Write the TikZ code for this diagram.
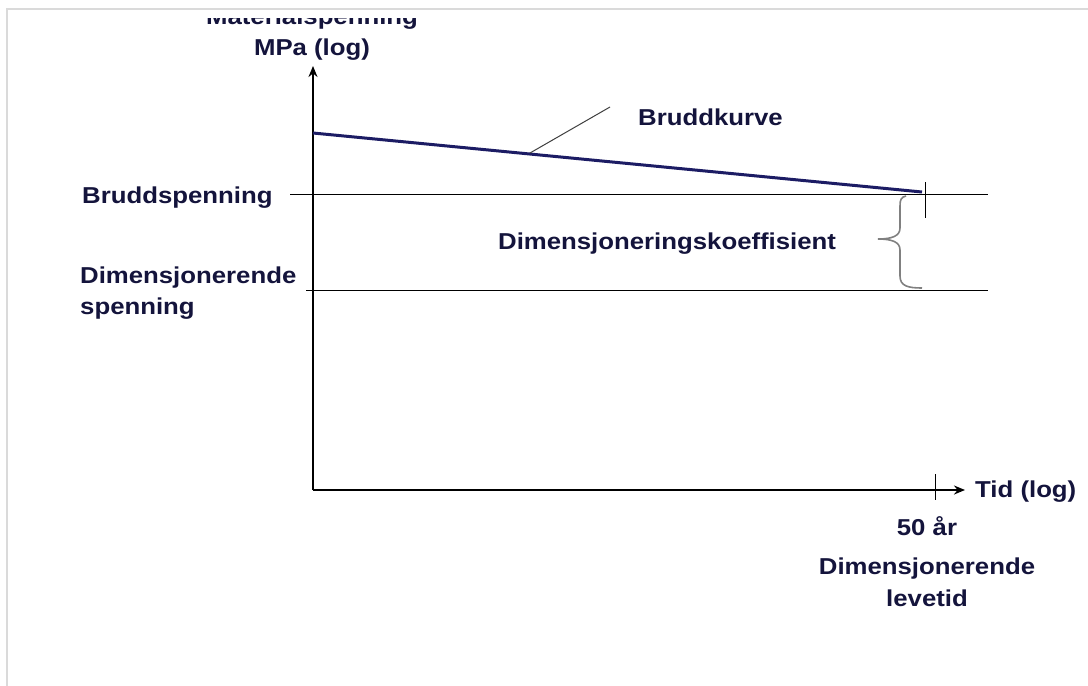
\documentclass[tikz,border=0pt]{standalone}
\usepackage{fontspec}
\setmainfont{Liberation Sans}[FakeStretch=1.12]
\usetikzlibrary{arrows.meta}
\definecolor{txt}{RGB}{20,20,60}
\definecolor{curve}{RGB}{28,28,100}
\definecolor{frame}{RGB}{218,218,218}
\definecolor{brace}{RGB}{128,128,128}
\tikzset{
  lbl/.style={inner sep=0pt, text=txt, font=\fontsize{23}{32}\selectfont\bfseries},
  axis/.style={black, line width=2pt, -{Stealth[length=11pt,width=9pt]}},
  guide/.style={black, line width=0.9pt},
  tick/.style={black, line width=0.9pt},
}
\begin{document}
\begin{tikzpicture}[x=1pt,y=-1pt]
\useasboundingbox (0,0) rectangle (1088,686);
\fill[white] (0,0) rectangle (1088,686);
% frame
\draw[frame, line width=2pt] (7,686) -- (7,9) -- (1088,9);
% clipped top label
\begin{scope}
\clip (0,18) rectangle (1088,60);
\node[lbl, anchor=base] (mat) at (312,24) {Materialspenning};
\end{scope}
\node[lbl, anchor=base] (mpa) at (312,55) {MPa (log)};
% axes
\coordinate (O) at (313,490);
\coordinate (ytop) at (313,66);
\coordinate (xend) at (965,490);
\draw[axis] (O) -- (ytop);
\draw[axis] (O) -- (xend);
% guide lines
\coordinate (b1) at (290,194);
\coordinate (b2) at (988,194);
\coordinate (d1) at (306,290);
\coordinate (d2) at (988,290);
\draw[guide] (b1) -- (b2);
\draw[guide] (d1) -- (d2);
% curve
\coordinate (c1) at (313,133);
\coordinate (c2) at (922,192);
\draw[curve, line width=3pt] (c1) -- (c2);
% ticks
\coordinate (t1a) at (925,182);
\coordinate (t1b) at (925,218);
\draw[tick] (t1a) -- (t1b);
\coordinate (t2a) at (935,474);
\coordinate (t2b) at (935,500);
\draw[tick] (t2a) -- (t2b);
% leader
\coordinate (l1) at (530,153);
\coordinate (l2) at (610,107);
\draw[black!75, line width=1pt] (l1) -- (l2);
% brace
\draw[brace, line width=1.6pt] (906,196) .. controls (901,197) and (900,200) .. (900,206) -- (900,228)
  .. controls (900,236) and (892,239) .. (878,239)
  .. controls (892,239) and (900,242) .. (900,250) -- (900,276)
  .. controls (900,286) and (908,288) .. (922,288);
% labels
\node[lbl, anchor=base west] (bk) at (638,125) {Bruddkurve};
\node[lbl, anchor=base west] (bs) at (82,203) {Bruddspenning};
\node[lbl, anchor=base west] (dk) at (498,249) {Dimensjoneringskoeffisient};
\node[lbl, anchor=base west] (ds1) at (80,283) {Dimensjonerende};
\node[lbl, anchor=base west] (ds2) at (80,314) {spenning};
\node[lbl, anchor=base west] (tid) at (975,497) {Tid (log)};
\node[lbl, anchor=base] (aar) at (927,535) {50 år};
\node[lbl, anchor=base] (dl1) at (927,574) {Dimensjonerende};
\node[lbl, anchor=base] (dl2) at (927,606) {levetid};
\end{tikzpicture}
\end{document}
